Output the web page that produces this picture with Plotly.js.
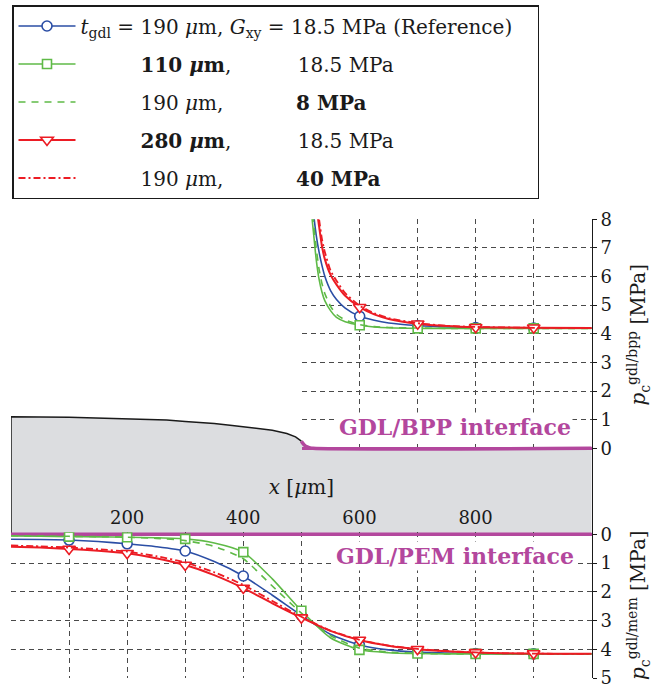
<!DOCTYPE html>
<html><head><meta charset="utf-8">
<script src="https://cdn.plot.ly/plotly-3.0.1.min.js"></script>
<style>body{margin:0;background:#fff}</style>
</head><body>
<div id="chart" style="width:656px;height:690px"></div>
<script>
// ---------- data ----------
// GDL/PEM interface contact pressure (lower plot), x in µm
const xMem = [0,50,100,150,200,250,300,350,400,450,500,550,600,650,700,750,800,850,900,950,1000];
const memRef     = [0.17,0.18,0.20,0.25,0.33,0.43,0.58,0.95,1.45,2.12,2.82,3.48,3.85,4.02,4.10,4.13,4.15,4.16,4.16,4.16,4.16];
const memT110    = [0.06,0.07,0.08,0.09,0.10,0.12,0.16,0.30,0.62,1.55,2.66,3.60,4.02,4.12,4.15,4.16,4.16,4.16,4.16,4.16,4.16];
const memG8      = [0.05,0.06,0.07,0.08,0.10,0.14,0.22,0.42,0.85,1.80,2.74,3.52,3.96,4.10,4.14,4.16,4.16,4.16,4.16,4.16,4.16];
const memT280    = [0.43,0.46,0.51,0.57,0.66,0.83,1.07,1.42,1.87,2.40,2.90,3.36,3.68,3.88,4.00,4.07,4.11,4.14,4.15,4.16,4.16];
const memG40     = [0.39,0.42,0.46,0.52,0.60,0.76,0.98,1.32,1.76,2.32,2.87,3.35,3.67,3.87,3.99,4.06,4.11,4.14,4.15,4.16,4.16];

// GDL/BPP interface contact pressure (upper plot)
const xBpp = [503,506,510,515,520,525,530,535,540,550,560,575,600,625,650,700,750,800,900,1000];
const bppRef  = [17.0,13.0,11.0,9.5,8.3,7.45,6.85,6.38,6.0,5.5,5.2,4.9,4.61,4.47,4.38,4.29,4.24,4.22,4.20,4.20];
const bppT110 = [14.0,11.5,9.8,8.6,7.6,6.6,5.9,5.45,5.15,4.8,4.57,4.42,4.30,4.24,4.21,4.19,4.19,4.19,4.19,4.19];
const bppG8   = [14.5,12.0,10.3,9.0,8.0,7.0,6.25,5.75,5.4,4.95,4.68,4.48,4.32,4.25,4.22,4.20,4.19,4.19,4.19,4.19];
const bppT280 = [19.0,16.0,13.0,11.0,9.6,8.5,7.75,7.05,6.6,6.05,5.72,5.33,4.93,4.68,4.52,4.35,4.27,4.23,4.21,4.20];
const bppG40  = [19.5,16.5,13.5,11.5,10.0,8.8,8.0,7.3,6.85,6.2,5.85,5.42,4.98,4.72,4.55,4.37,4.28,4.24,4.21,4.20];

// schematic GDL outline (top surface before contact, BPP contact line)
const gdlTopX = [0,100,200,268,300,350,381,400,450,475,490,500];
const gdlTopY = [1.10,1.09,1.04,0.99,0.94,0.87,0.80,0.76,0.63,0.52,0.40,0.25];
const gdlBppX = [500,505,510,515,520,1000];
const gdlBppY = [0.25,0.12,0.05,0.015,0,0];
const gdlBottomY = -3.0;

const markerXMem = [100,200,300,400,500,600,700,800,900];
const markerXBpp = [600,700,800,900];

const xTickVals = [200,400,600,800];
const yBppTicks = [0,1,2,3,4,5,6,7,8];
const yMemTicks = [0,1,2,3,4,5];

// legend texts
const EM = '\u2003', NB = '\u00a0';
const names = [
  '<i>t</i><sub>gdl</sub> = 190 <i>μ</i>m, <i>G</i><sub>xy</sub> = 18.5 MPa (Reference)' + EM,
  EM+EM+EM+'<b>110 <i>μ</i>m</b>,'+EM+EM+EM+NB+'18.5 MPa',
  EM+EM+EM+'190 <i>μ</i>m,'+EM+EM+EM+NB+NB+'<b>8 MPa</b>',
  EM+EM+EM+'<b>280 <i>μ</i>m</b>,'+EM+EM+EM+NB+'18.5 MPa',
  EM+EM+EM+'190 <i>μ</i>m,'+EM+EM+EM+NB+NB+'<b>40 MPa</b>'
];

// ---------- styles ----------
const FONT = 'DejaVu Serif';
const INK = '#1a1a1a';
const BLUE = '#2b4ea5', GREEN = '#5fba47', RED = '#ec1c24', MAG = '#b3479d', GDL = '#dcdde0';
const GRID = '#4a4a4a';
const W = 656, H = 690;
const fx = p => p / W, fy = p => 1 - p / H;

const series = [
  {mem: memRef,  bpp: bppRef,  color: BLUE,  width: 1.6, dash: 'solid', symbol: 'circle', size: 10},
  {mem: memT110, bpp: bppT110, color: GREEN, width: 1.6, dash: 'solid', symbol: 'square', size: 9},
  {mem: memG8,   bpp: bppG8,   color: GREEN, width: 1.6, dash: '7px,6px', symbol: null},
  {mem: memT280, bpp: bppT280, color: RED,   width: 2.0, dash: 'solid', symbol: 'triangle-down', size: 11},
  {mem: memG40,  bpp: bppG40,  color: RED,   width: 1.8, dash: '7px,3px,2px,3px', symbol: null}
];

const traces = [];
// GDL body (subplot xy, drawn first)
const polyX = gdlTopX.concat(gdlBppX.slice(1), [1000, 0]);
const polyY = gdlTopY.concat(gdlBppY.slice(1), [gdlBottomY, gdlBottomY]);
traces.push({x: polyX, y: polyY, xaxis: 'x', yaxis: 'y', mode: 'lines', fill: 'toself',
  fillcolor: GDL, line: {width: 0}, showlegend: false, hoverinfo: 'skip'});
traces.push({x: [0].concat(gdlTopX), y: [gdlBottomY].concat(gdlTopY), xaxis: 'x', yaxis: 'y',
  mode: 'lines', line: {color: INK, width: 1.5}, showlegend: false, hoverinfo: 'skip'});
traces.push({x: gdlBppX, y: gdlBppY, xaxis: 'x', yaxis: 'y', mode: 'lines',
  line: {color: MAG, width: 3.5, shape: 'spline'}, showlegend: false, hoverinfo: 'skip'});
traces.push({x: [0, 1000], y: [gdlBottomY, gdlBottomY], xaxis: 'x', yaxis: 'y', mode: 'lines',
  line: {color: MAG, width: 3.5}, showlegend: false, hoverinfo: 'skip'});

function idxOf(xs, wanted) { const r = []; xs.forEach((v, i) => { if (wanted.includes(v)) r.push(i); }); return r; }

const lowerTraces = [], upperTraces = [];
series.forEach((s, k) => {
  const common = {
    mode: s.symbol ? 'lines+markers' : 'lines',
    line: {color: s.color, width: s.width, dash: s.dash, shape: 'spline', smoothing: 0.6},
    legendgroup: 'g' + k, hoverinfo: 'skip'
  };
  if (s.symbol) {
    common.marker = {symbol: s.symbol, size: s.size, color: 'white', line: {color: s.color, width: 1.6}};
    common.unselected = {marker: {opacity: 0}};
  }
  const low = Object.assign({}, common, {x: xMem, y: s.mem, xaxis: 'x2', yaxis: 'y2', name: names[k], showlegend: true});
  const up = Object.assign({}, common, {x: xBpp, y: s.bpp, xaxis: 'x3', yaxis: 'y3', showlegend: false});
  if (s.symbol) { low.selectedpoints = idxOf(xMem, markerXMem); up.selectedpoints = idxOf(xBpp, markerXBpp); }
  lowerTraces.push(low);
  upperTraces.push(up);
});
const data = traces.concat(lowerTraces, upperTraces);

const tickFont = {family: FONT, size: 18, color: INK};
const titleFont = {family: FONT, size: 20, color: INK};
const gridStyle = {showgrid: true, gridcolor: GRID, gridwidth: 1, griddash: '5px,4px', zeroline: false};
const minorGrid = {tickmode: 'linear', tick0: 0, dtick: 100, ticks: '', showgrid: true,
  gridcolor: GRID, gridwidth: 1, griddash: '5px,4px'};

const layout = {
  width: W, height: H,
  margin: {l: 0, r: 0, t: 0, b: 0},
  paper_bgcolor: 'white', plot_bgcolor: 'rgba(0,0,0,0)',
  font: {family: FONT, size: 18, color: INK},
  showlegend: true,
  legend: {
    x: fx(12), y: fy(5), xanchor: 'left', yanchor: 'top',
    bgcolor: 'white', bordercolor: INK, borderwidth: 1.5,
    font: {family: FONT, size: 20, color: INK},
    itemwidth: 57, tracegroupgap: 9, traceorder: 'grouped'
  },
  // GDL schematic axes (hidden)
  xaxis: {domain: [fx(11), fx(591.7)], range: [0, 1000], anchor: 'y', visible: false},
  yaxis: {domain: [fy(678), fy(219.3)], range: [-8.02, 8], anchor: 'x', side: 'right',
    showgrid: false, zeroline: false, showticklabels: false, ticks: '',
    showline: true, linecolor: INK, linewidth: 1.3},
  // lower plot: GDL/PEM interface
  xaxis2: Object.assign({domain: [fx(11), fx(591.7)], range: [0, 1000], anchor: 'y2', side: 'top',
    tickmode: 'array', tickvals: xTickVals, ticks: '', tickfont: tickFont,
    ticklabelstandoff: 4, minor: minorGrid,
    title: {text: '<i>x</i> [<i>μ</i>m]', font: titleFont, standoff: 6}}, gridStyle),
  yaxis2: Object.assign({domain: [fy(678), fy(532.3)], range: [5, -0.07], anchor: 'x2', side: 'right',
    tickmode: 'array', tickvals: yMemTicks, ticks: 'outside', ticklen: 4, tickcolor: INK,
    tickfont: tickFont, showline: true, linecolor: INK, linewidth: 1.3,
    title: {text: '<i>p</i><sub>c</sub><sup>gdl/mem</sup> [MPa]', font: titleFont, standoff: 20}}, gridStyle,
    {zeroline: true, zerolinecolor: MAG, zerolinewidth: 3.5}),
  // upper plot: GDL/BPP interface
  xaxis3: Object.assign({domain: [fx(301.7), fx(591.7)], range: [500, 1000], anchor: 'y3',
    tickmode: 'linear', tick0: 500, dtick: 100, showticklabels: false, ticks: ''}, gridStyle),
  yaxis3: Object.assign({domain: [fy(450.3), fy(219.3)], range: [-0.07, 8], anchor: 'x3', side: 'right',
    tickmode: 'array', tickvals: yBppTicks, ticks: 'outside', ticklen: 4, tickcolor: INK,
    tickfont: tickFont, showline: true, linecolor: INK, linewidth: 1.3,
    title: {text: '<i>p</i><sub>c</sub><sup>gdl/bpp</sup> [MPa]', font: titleFont, standoff: 20}}, gridStyle,
    {zeroline: true, zerolinecolor: MAG, zerolinewidth: 3.5}),
  annotations: [
    {xref: 'x3', yref: 'y3', x: 764, y: 0.74, text: '<b>GDL/BPP interface</b>', showarrow: false,
      font: {family: FONT, size: 22, color: MAG}, bgcolor: 'white', borderpad: 1},
    {xref: 'x2', yref: 'y2', x: 764, y: 0.76, text: '<b>GDL/PEM interface</b>', showarrow: false,
      font: {family: FONT, size: 22, color: MAG}, bgcolor: 'white', borderpad: 1}
  ]
};

Plotly.newPlot('chart', data, layout, {staticPlot: true, displayModeBar: false});
</script>
</body></html>
